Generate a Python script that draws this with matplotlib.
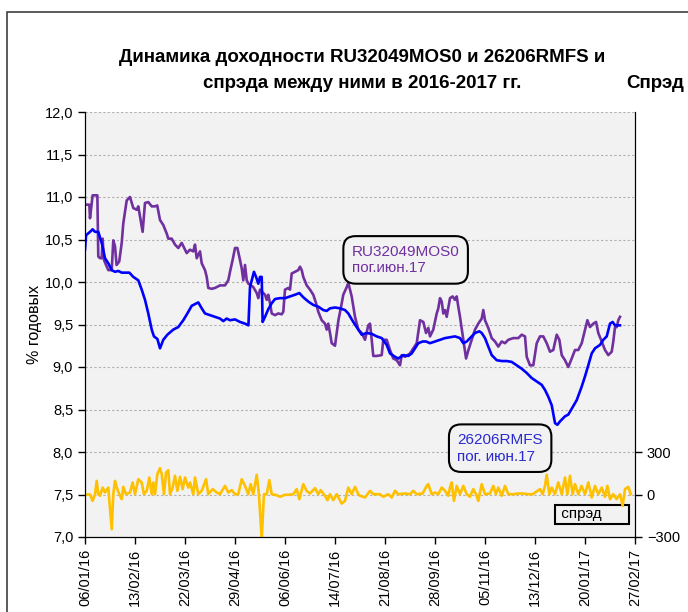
import matplotlib
matplotlib.use('Agg')
import matplotlib.pyplot as plt
import matplotlib.dates as mdates
from matplotlib.patches import Rectangle
import pandas as pd

plt.rcParams['font.family'] = ['Liberation Sans', 'DejaVu Sans']

START = pd.Timestamp('2016-01-06')
END = pd.Timestamp('2017-02-27')

# RU32049MOS0, % годовых (дни от 06/01/16)
mos_days = [0, 1.3, 3.3, 3.8, 5.8, 9.4, 10.1, 11.4, 12.7, 13.4, 14.4, 16, 17.7, 20.3,
            21.5, 22.8, 24, 26, 27.9, 29.1, 31.7, 34.2, 36.7, 39.3, 40.5, 41.8, 43.8,
            45.6, 48.1, 50.7, 53.2, 54.9, 57, 59.5, 62.1, 63.3, 65.9, 68.4, 70.9, 73.5,
            76, 77.3, 79.8, 82.3, 83.6, 84.9, 87.4, 88.7, 91.2, 92.5, 93.7, 96.3, 98.8,
            100.1, 102.6, 106.4, 108.9, 110.2, 112.2, 114, 115.8, 117.8, 119.1, 120.3,
            121.6, 122.9, 124.2, 127.9, 130.5, 131.7, 133, 135.5, 136.8, 138.1, 139.3,
            140.6, 141.9, 144.4, 146.9, 149.5, 150.7, 152, 154.5, 155.8, 157.1, 159.6,
            162.1, 163.4, 164.7, 165.9, 168.5, 171, 173.5, 175.6, 177.3, 179.9, 182.4,
            183.7, 184.9, 186.2, 187.5, 190, 191.3, 192.6, 194.5, 196.3, 198.9, 200.1,
            202.7, 205.2, 207.7, 210.3, 212.8, 215.3, 216.6, 217.9, 219.1, 221.7, 225.5,
            226.7, 229.3, 231.8, 234.3, 236.9, 239.4, 240.7, 243.2, 247, 252.1, 254.6,
            257.1, 259.2, 260.9, 262.2, 264.7, 267.3, 268.5, 269.8, 271.1, 272.3, 273.6,
            274.9, 277.4, 279.4, 281.2, 282.5, 283.7, 285, 287.5, 289.6, 291.4, 293.9,
            296.4, 298.9, 301.5, 302.7, 304, 306.5, 309.1, 311.6, 314.1, 316.7, 319.2,
            321.7, 325.5, 329.3, 331.9, 334.4, 335.7, 338.2, 340.7, 343.3, 345.8, 348.3,
            350.9, 353.4, 355.9, 358.5, 360.5, 362.3, 364.8, 367.3, 369.9, 372.4, 374.9,
            377.5, 380, 381.8, 383.8, 386.3, 388.4, 390.1, 392.7, 395.2, 397.7, 400.3,
            401.5, 402.8, 404.1, 405.3, 406.6]
mos_vals = [10.91, 10.91, 10.91, 10.75, 11.02, 11.02, 10.30, 10.28, 10.28, 10.51, 10.26,
            10.20, 10.14, 10.14, 10.49, 10.42, 10.20, 10.24, 10.46, 10.69, 10.96, 11.00,
            10.87, 10.85, 10.89, 10.77, 10.59, 10.93, 10.94, 10.89, 10.89, 10.90, 10.73,
            10.67, 10.57, 10.51, 10.51, 10.44, 10.40, 10.46, 10.38, 10.34, 10.38, 10.36,
            10.44, 10.28, 10.36, 10.22, 10.14, 10.06, 9.93, 9.92, 9.93,
            9.94, 9.96, 9.96, 10.02, 10.12, 10.26, 10.40, 10.40, 10.26, 10.16, 10.02,
            10.20, 10.02, 9.98, 9.94, 9.87, 9.81, 9.91, 9.87, 9.85, 9.79, 9.85,
            9.75, 9.63, 9.61, 9.63, 9.62, 9.65, 9.91, 9.93, 9.91, 10.10, 10.12,
            10.14, 10.18, 10.14, 10.06, 9.96, 9.91, 9.85, 9.75, 9.65, 9.55, 9.51,
            9.44, 9.51, 9.40, 9.28, 9.25, 9.40, 9.55, 9.70, 9.85, 9.94, 9.99,
            9.83, 9.59, 9.44, 9.40, 9.32, 9.49, 9.51, 9.32, 9.13, 9.13, 9.14,
            9.32, 9.32, 9.20, 9.10, 9.08, 9.02, 9.14, 9.12, 9.16, 9.28, 9.55,
            9.53, 9.40, 9.46, 9.36, 9.44, 9.63, 9.69, 9.81, 9.77, 9.63, 9.67,
            9.59, 9.81, 9.83, 9.79, 9.83, 9.71, 9.59, 9.32, 9.10, 9.20, 9.32,
            9.44, 9.51, 9.57, 9.67, 9.55, 9.46, 9.34, 9.30, 9.24, 9.30, 9.28,
            9.32, 9.34, 9.34, 9.38, 9.36, 9.12, 9.02, 9.02, 9.28, 9.36, 9.36,
            9.28, 9.18, 9.20, 9.38, 9.32, 9.14, 9.08, 9.00, 9.10, 9.20, 9.20,
            9.28, 9.44, 9.55, 9.47, 9.51, 9.53, 9.40, 9.30, 9.20, 9.14, 9.18,
            9.30, 9.47, 9.47, 9.55, 9.59]

# 26206RMFS, % годовых
ofz_days = [0, 0.8, 3.8, 5.8, 7.6, 10.1, 12.7, 15.2, 17.7, 20.3, 22.8, 25.3, 27.9, 30.4,
            33.7, 36.7, 40.5, 43.1, 45.6, 48.1, 50.7, 52.4, 55, 57, 59.5, 62.6, 67.1,
            70.9, 74.7, 77.8, 81.1, 84.9, 86.1, 88.7, 91.2, 95, 98.8, 102.6, 105.1,
            107.7, 110.2, 114, 117.8, 121.6, 124.2, 125.4, 126.7, 128.4, 130, 131.7,
            133, 134.3, 135, 136.8, 139.3, 141.9, 144.4, 148.2, 152, 155.8, 159.6,
            162.9, 165.9, 169.7, 173.5, 177.3, 181.1, 183.7, 186.2, 190, 193.8, 197.6,
            200.1, 203.9, 207.7, 210.3, 214.1, 217.9, 221.7, 225.5, 229.3, 231.8, 235.6,
            238.1, 241.9, 245.7, 248.3, 250.8, 253.3, 256.6, 259.2, 262.2, 266, 269.8,
            273.6, 277.4, 281.2, 285, 287.5, 290.1, 293.9, 296.4, 299.7, 301.5, 304,
            306.5, 309.1, 312.9, 316.7, 320.5, 324.3, 328.1, 331.9, 335.7, 339.5, 343.3,
            347.1, 349.6, 352.1, 354.7, 357.2, 359, 361, 364.8, 367.3, 369.9, 373.7,
            377.5, 380, 382.5, 385.1, 387.6, 391.4, 393.9, 396.5, 399, 401, 402.8, 406.6]
ofz_vals = [10.38, 10.55, 10.59, 10.62, 10.59, 10.59, 10.46, 10.28, 10.22, 10.14, 10.12,
            10.13, 10.11, 10.11, 10.11, 10.06, 10.02, 9.91, 9.79, 9.63, 9.44, 9.36, 9.33,
            9.22, 9.32, 9.38, 9.44, 9.47, 9.55, 9.63, 9.72, 9.75, 9.76, 9.69, 9.63, 9.61,
            9.59, 9.57, 9.54, 9.57, 9.55, 9.56, 9.53, 9.51, 9.49, 9.94, 10.02, 10.12,
            10.06, 9.98, 10.06, 10.06, 9.53, 9.59, 9.68, 9.75, 9.80, 9.81, 9.81, 9.83,
            9.85, 9.87, 9.82, 9.77, 9.73, 9.71, 9.67, 9.66, 9.69, 9.70, 9.69, 9.67,
            9.63, 9.53, 9.44, 9.38, 9.40, 9.39, 9.36, 9.34, 9.26, 9.16, 9.12,
            9.10, 9.14, 9.13, 9.16, 9.22, 9.28, 9.30, 9.30, 9.28, 9.30, 9.32,
            9.34, 9.35, 9.36, 9.34, 9.28, 9.30, 9.36, 9.40, 9.42, 9.40, 9.34,
            9.24, 9.14, 9.08, 9.07, 9.07, 9.06, 9.02, 8.98, 8.93, 8.87, 8.83,
            8.79, 8.73, 8.65, 8.55, 8.34, 8.32, 8.36, 8.42, 8.44, 8.51, 8.61,
            8.77, 8.89, 9.02, 9.16, 9.22, 9.26, 9.32, 9.36, 9.51, 9.53, 9.49, 9.49]

# спрэд, б.п.
spr_days = [0, 3.8, 5.8, 7.6, 8.9, 10.1, 11.4, 13.4, 15.2, 17.7, 20.3, 21.5, 22.8, 24.1,
            26.1, 27.9, 29.1, 31.2, 34.2, 36.2, 38, 40.5, 43.1, 44.8, 46.9, 48.9, 50.7,
            51.9, 53.2, 55, 57, 58.3, 60, 61.6, 63.3, 64.6, 66.6, 68.4, 70.2, 72.2, 74.2,
            76, 78.5, 79.8, 82.3, 83.6, 86.1, 88.7, 92, 93.7, 97, 100.1, 102.6, 106.4,
            108.9, 111.5, 114, 116.5, 119.1, 121.6, 124.1, 125.9, 127.9, 130.5, 132.2,
            134.3, 136, 138.1, 140.1, 141.9, 145.7, 148.2, 152, 154.5, 158.3, 160.9,
            162.9, 165.9, 168.4, 171, 174.8, 177.3, 179.1, 182.4, 184.2, 186.2, 188.7,
            191.3, 195.1, 197.6, 200.1, 202.7, 205.2, 207.7,
            209, 212.8, 216.6, 219.1, 224.2, 226.7, 230.5, 233.1, 235.6, 238.1, 243.2,
            247, 249.5, 252.1, 256.6, 259.7, 260.9, 263.5, 266, 268.5, 271.1, 273.6,
            276.1, 277.4, 278.7, 280.4, 282.5, 285, 287.5, 290.1, 292.6, 295.1, 297.2,
            298.9, 301.5, 304, 307.8, 310.3, 312.3, 314.1, 316.7, 319.2, 321.7, 325.5,
            329.3, 333.1, 336.9, 340.2, 343.2, 345.8, 347.8, 349.6, 350.9, 352.9, 354.7,
            357.2, 359.7, 362.3, 364.8, 366.6, 368.6, 370.6, 372.4, 374.9, 377.4, 380,
            382.5, 385.1, 387.6, 390.1, 392.7, 395.2, 397, 399, 401.5, 404, 406.6, 408.6,
            410.4, 412.9, 414.7]
spr_vals = [0, 0, -45, 2, 96, 2, -9, 49, 14, 49, -245, 2, 96, 49,
            2, -33, 54, 2, 14, 85, 2, 108, 85, 2, 26, 120, 2,
            85, 2, 144, 186, 144, 2, 155, 172, 2, 49, 132, 26, 125, 38,
            120, 49, 85, 2, 120, 2, 26, 108, 2, 38, 14, 2, 61,
            14, 31, 2, 2, 108, 61, 2, 73, 2, 139, 2,
            -315, 2, 2, 101, 2, -5, -16, -2, -2, 2, 38,
            -33, 73, 26, 7, 45, 2, 31, -9, -40, 2, -40,
            2, -64, -45, 49, 2, 54, 2,
            -9, -21, 26, 2, 2, -16, 2, -21, 26, 2, 7,
            2, 26, 2, 7, 61, 73, 2, 14, 2, 49, 26,
            -9, 49, 85, -45, 61, 2, 61, 2, -16, 38, 2,
            -45, 73, 2, 7, 61, 2, 49, -9, 61, 2, 2,
            7, 7, 2, 2, 21, 38, 2, 61, 139, 2, 49,
            2, 85, 2, 120, 2, 132, 2, 73, 2, 61, 2,
            85, -21, 61, 2, 49, -16, 61, -33, 2, -33, 2,
            -80, 38, 54, 2]

mos_dates = START + pd.to_timedelta(mos_days, unit='D')
ofz_dates = START + pd.to_timedelta(ofz_days, unit='D')
spr_dates = START + pd.to_timedelta(spr_days, unit='D')
xticks = pd.date_range(START, END, freq='38D')

fig = plt.figure(figsize=(6.88, 6.12), dpi=100)
ax = fig.add_axes([85 / 688, 1 - 537 / 612, 550 / 688, 425 / 612])
ax.set_facecolor('#f2f2f2')

ax.plot(mos_dates, mos_vals, color='#7030a0', lw=1.9)
ax.plot(ofz_dates, ofz_vals, color='#0000ff', lw=1.9)

ax.set_ylim(7.0, 12.0)
ax.set_yticks([7.0 + 0.5 * i for i in range(11)])
ax.set_yticklabels([('%.1f' % (7.0 + 0.5 * i)).replace('.', ',') for i in range(11)], fontsize=10.5)
ax.set_xlim(START, END)
ax.set_xticks(xticks)
ax.xaxis.set_major_formatter(mdates.DateFormatter('%d/%m/%y'))
plt.setp(ax.get_xticklabels(), rotation=90, fontsize=10.5)
ax.grid(axis='y', color='#b0b0b0', ls=(0, (2, 2)), lw=0.8)
ax.tick_params(direction='out', length=5, width=1)
ax.set_ylabel('% годовых', fontsize=11.5, labelpad=2)
ax.spines['top'].set_visible(False)

ax2 = ax.twinx()
ax2.plot(spr_dates, spr_vals, color='#ffc000', lw=1.9)
ax2.set_ylim(-300, 2700)
ax2.set_yticks([-300, 0, 300])
ax2.tick_params(direction='out', length=5, width=1, labelsize=10.5)
ax2.spines['top'].set_visible(False)
ax2.set_xlim(START, END)

# подписи выпусков
ax.text(0.485, 0.652, 'RU32049MOS0\nпог.июн.17', transform=ax.transAxes, color='#7030a0',
        fontsize=11, ha='left', va='center', linespacing=1.25,
        bbox=dict(boxstyle='round,pad=0.55,rounding_size=0.8', fc='#f2f2f2', ec='black', lw=1.5))
ax.text(0.677, 0.209, '26206RMFS\nпог. июн.17', transform=ax.transAxes, color='#2a2ad0',
        fontsize=11, ha='left', va='center', linespacing=1.25,
        bbox=dict(boxstyle='round,pad=0.55,rounding_size=0.8', fc='#f2f2f2', ec='black', lw=1.5))
ax.text(0.858, 0.053, ' спрэд      ', transform=ax.transAxes, color='black',
        fontsize=11, ha='left', va='center',
        bbox=dict(boxstyle='square,pad=0.15', fc='#f2f2f2', ec='black', lw=1.5))

fig.text(362 / 688, 1 - 57 / 612, 'Динамика доходности RU32049MOS0 и 26206RMFS и',
         ha='center', va='center', fontsize=13.5, fontweight='bold')
fig.text(362 / 688, 1 - 84 / 612, 'спрэда между ними в 2016-2017 гг.',
         ha='center', va='center', fontsize=13.5, fontweight='bold')
fig.text(684 / 688, 1 - 84 / 612, 'Спрэд', ha='right', va='center', fontsize=13.5, fontweight='bold')

fig.patches.append(Rectangle((7 / 688, -0.1), 1.2, 1.1 - 12 / 612, transform=fig.transFigure,
                             fill=False, ec='#404040', lw=1.2))

fig.savefig('out.png', dpi=100)
